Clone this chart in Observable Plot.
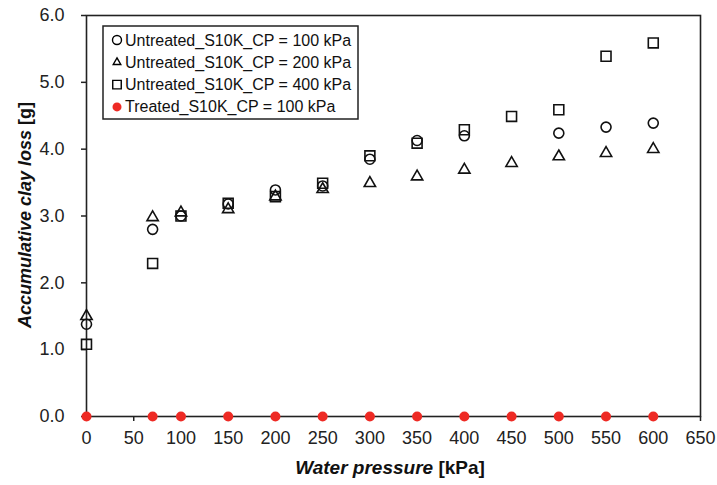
<!DOCTYPE html>
<html>
<head>
<meta charset="utf-8">
<script src="https://cdn.jsdelivr.net/npm/d3@7"></script>
<script src="https://cdn.jsdelivr.net/npm/@observablehq/plot@0.6"></script>
<style>
  html, body { margin: 0; padding: 0; background: #fff; }
  #chart { width: 717px; height: 485px; }
  svg { font-family: "Liberation Sans", Arial, sans-serif; }
</style>
</head>
<body>
<div id="chart"></div>
<script>
// Water pressure [kPa]
const pressures = [0, 70, 100, 150, 200, 250, 300, 350, 400, 450, 500, 550, 600];
// Untreated_S10K_CP = 100 kPa (no point at 450)
const untreated100X = [0, 70, 100, 150, 200, 250, 300, 350, 400, 500, 550, 600];
const untreated100Y = [1.38, 2.8, 3.0, 3.18, 3.39, 3.45, 3.85, 4.13, 4.2, 4.24, 4.33, 4.39];
// Untreated_S10K_CP = 200 kPa
const untreated200Y = [1.5, 2.98, 3.05, 3.1, 3.29, 3.4, 3.49, 3.59, 3.69, 3.79, 3.89, 3.94, 4.0];
// Untreated_S10K_CP = 400 kPa
const untreated400Y = [1.08, 2.29, 3.0, 3.19, 3.29, 3.49, 3.9, 4.09, 4.29, 4.49, 4.59, 5.39, 5.59];
// Treated_S10K_CP = 100 kPa
const treated100Y = [0, 0, 0, 0, 0, 0, 0, 0, 0, 0, 0, 0, 0];

const xTicks = d3.range(0, 651, 50);
const yTicks = [0, 1, 2, 3, 4, 5, 6];

const legendItems = [
  {label: "Untreated_S10K_CP = 100 kPa", symbol: "circle", fill: "none", stroke: "#000"},
  {label: "Untreated_S10K_CP = 200 kPa", symbol: "triangle", fill: "none", stroke: "#000"},
  {label: "Untreated_S10K_CP = 400 kPa", symbol: "square", fill: "none", stroke: "#000"},
  {label: "Treated_S10K_CP = 100 kPa", symbol: "circle", fill: "#ee2a24", stroke: "none"}
];

const d100 = untreated100X.map((x, i) => ({x, y: untreated100Y[i]}));
const d200 = pressures.map((x, i) => ({x, y: untreated200Y[i]}));
const d400 = pressures.map((x, i) => ({x, y: untreated400Y[i]}));
const dT = pressures.map((x, i) => ({x, y: treated100Y[i]}));

const plot = Plot.plot({
  width: 717,
  height: 485,
  marginLeft: 86,
  marginRight: 17,
  marginTop: 15,
  marginBottom: 69,
  style: {fontFamily: "Liberation Sans, Arial, sans-serif", fontSize: "18px", color: "#222", background: "#fff"},
  x: {domain: [0, 650]},
  y: {domain: [0, 6]},
  marks: [
    Plot.frame({stroke: "#222", strokeWidth: 1.6}),
    Plot.axisX({ticks: xTicks, tickFormat: d => String(d), label: null, tickSize: 5, tickPadding: 10, stroke: "#222", strokeWidth: 1.5, fontSize: 18}),
    Plot.axisY({ticks: yTicks, tickFormat: d3.format(".1f"), label: null, tickSize: 5, tickPadding: 17, stroke: "#222", strokeWidth: 1.5, fontSize: 18}),
    Plot.dot(d100, {x: "x", y: "y", symbol: "circle", r: 5, stroke: "#111", strokeWidth: 1.6, fill: "none"}),
    Plot.dot(d200, {x: "x", y: "y", symbol: "triangle", r: 4.2, stroke: "#111", strokeWidth: 1.6, fill: "none"}),
    Plot.dot(d400, {x: "x", y: "y", symbol: "square", r: 5.6, stroke: "#111", strokeWidth: 1.6, fill: "none"}),
    Plot.dot(dT, {x: "x", y: "y", symbol: "circle", r: 5, fill: "#ee2a24", stroke: "none"})
  ]
});
document.getElementById("chart").appendChild(plot);

const svg = d3.select(plot);
// Axis titles
const xt = svg.append("text")
  .attr("x", 390).attr("y", 474)
  .attr("text-anchor", "middle")
  .attr("font-size", 19).attr("font-weight", "bold").attr("fill", "#111");
xt.append("tspan").attr("font-style", "italic").text("Water pressure");
xt.append("tspan").text(" [kPa]");

const yt = svg.append("text")
  .attr("transform", "translate(31,215) rotate(-90)")
  .attr("text-anchor", "middle")
  .attr("font-size", 18).attr("font-weight", "bold").attr("fill", "#111");
yt.append("tspan").attr("font-style", "italic").text("Accumulative clay loss");
yt.append("tspan").text(" [g]");

// Legend
const lg = svg.append("g").attr("text-anchor", "start");
lg.append("rect").attr("x", 103).attr("y", 26).attr("width", 255).attr("height", 93)
  .attr("fill", "#fff").attr("stroke", "#222").attr("stroke-width", 1.5);
const symMap = {circle: d3.symbolCircle, triangle: d3.symbolTriangle2, square: d3.symbolSquare};
const rMap = {circle: 4.5, triangle: 3.6, square: 4.8};
legendItems.forEach((it, i) => {
  const cy = 40 + i * 22.3;
  lg.append("path")
    .attr("d", d3.symbol(symMap[it.symbol], Math.PI * rMap[it.symbol] ** 2)())
    .attr("transform", `translate(117,${cy})`)
    .attr("fill", it.fill).attr("stroke", it.stroke).attr("stroke-width", 1.4);
  lg.append("text").attr("x", 125).attr("y", cy + 5.5)
    .attr("text-anchor", "start")
    .attr("font-size", 16).attr("fill", "#111").text(it.label);
});
</script>
</body>
</html>
